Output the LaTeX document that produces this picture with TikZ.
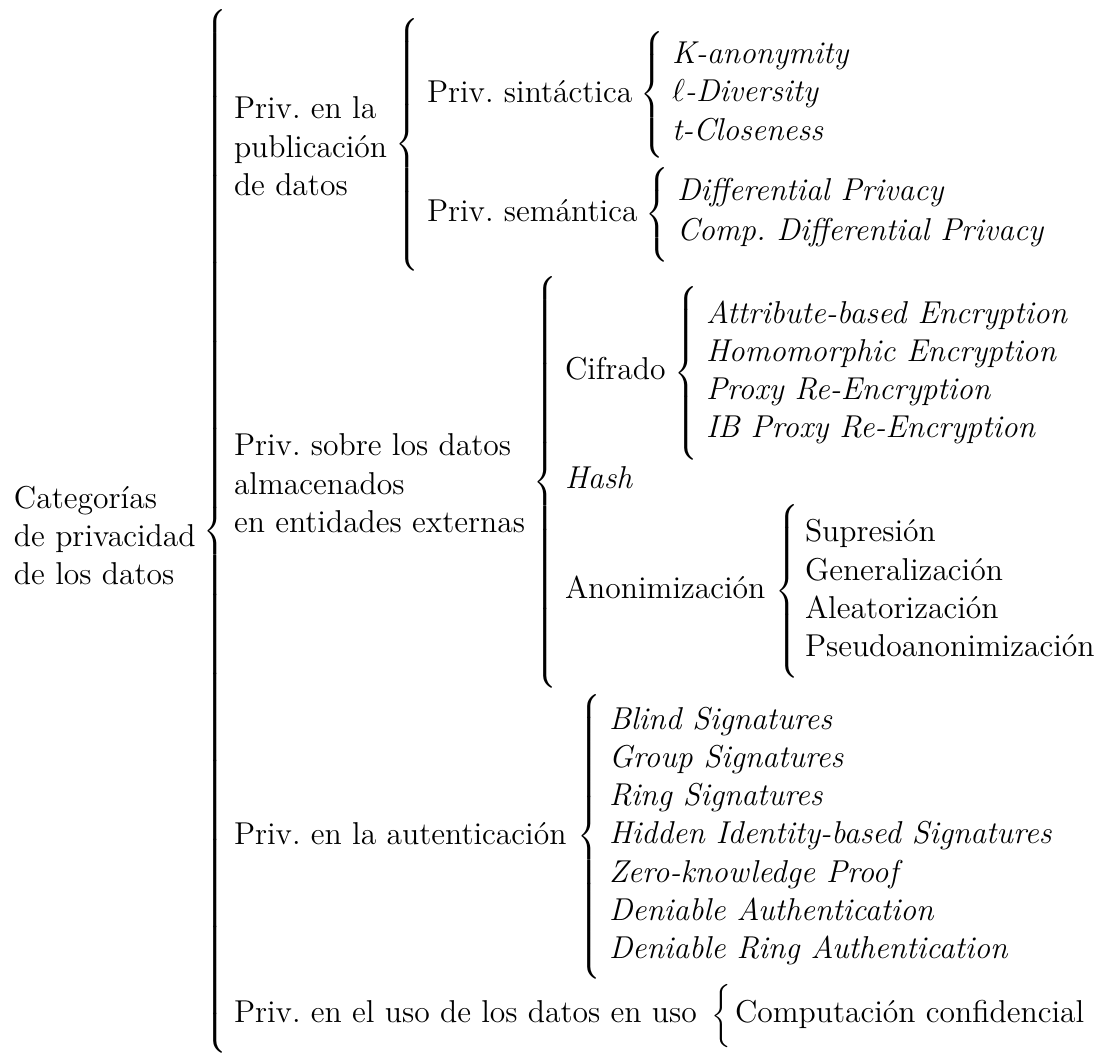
\documentclass[tikz,border=0pt]{standalone}
\usepackage{tikz}

% Extensible curly brace (cmex at 10pt) of a given total height,
% built from TeX's own delimiter pieces.
\newcommand{\curlybrace}[1]{%
  \fontsize{10}{12}\selectfont
  \delimiterfactor=1000 \delimitershortfall=0pt \nulldelimiterspace=0pt
  $\left\{\vcenter{\hrule height #1 width 0pt}\right.$}

% Several lines of upright text, baseline of the node = first line
\newcommand{\lines}[1]{\vtop{\baselineskip=14.5pt\lineskiplimit=-10pt #1}}

\tikzset{
  lbl/.style={font=\fontsize{12}{14.5}\selectfont\frenchspacing, inner sep=0pt, outer sep=0pt, anchor=base west},
  term/.style={lbl, font=\fontsize{12}{14.5}\selectfont\frenchspacing\itshape},
  curly/.style={inner sep=0pt, outer sep=0pt, anchor=center},
}

\begin{document}
\begin{tikzpicture}[x=0.3795pt, y=-0.3795pt]
\useasboundingbox (0,0) rectangle (1107,1057);

% root
\node[lbl] (root) at (14,508.3) {\lines{\hbox{Categorías}\hbox{de privacidad}\hbox{de los datos}}};
\node[curly] (broot) at (215,531.7) {\curlybrace{395.7pt}};

% first level
\node[lbl] (pub)   at (234,119)  {\lines{\hbox{Priv. en la}\hbox{publicación}\hbox{de datos}}};
\node[lbl] (sobre) at (234,456)  {\lines{\hbox{Priv. sobre los datos}\hbox{almacenados}\hbox{en entidades externas}}};
\node[lbl] (auth)  at (234,845)  {Priv. en la autenticación};
\node[lbl] (uso)   at (234,1023) {Priv. en el uso de los datos en uso};

% publication branch
\node[curly] (bpub) at (407,144.5) {\curlybrace{95.7pt}};
\node[lbl] (sin) at (427,103) {Priv. sintáctica};
\node[lbl] (sem) at (427,222) {Priv. semántica};

\node[curly] (bsin) at (652,94.5) {\curlybrace{47.7pt}};
\foreach \t [count=\i from 0] in {K-anonymity, {$\ell$-Diversity}, t-Closeness}
  \node[term] (sin\i) at (672,{63.8+38.2*\i}) {\t};

\node[curly] (bsem) at (657,214.5) {\curlybrace{35.7pt}};
\foreach \t [count=\i from 0] in {Differential Privacy, Comp. Differential Privacy}
  \node[term] (sem\i) at (677,{201+39.5*\i}) {\t};

% stored-data branch
\node[curly] (bsobre) at (545,482.5) {\curlybrace{155.7pt}};
\node[lbl]  (cif)  at (565,380) {Cifrado};
\node[term] (hash) at (565,489) {Hash};
\node[lbl]  (anon) at (565,599) {Anonimización};

\node[curly] (bcif) at (686,373) {\curlybrace{65.7pt}};
\foreach \t [count=\i from 0] in {Attribute-based Encryption, Homomorphic Encryption,
    Proxy Re-Encryption, IB Proxy Re-Encryption}
  \node[term] (cif\i) at (706,{323.2+38.2*\i}) {\t};

\node[curly] (banon) at (787,591) {\curlybrace{65.7pt}};
\foreach \t [count=\i from 0] in {Supresión, Generalización, Aleatorización, Pseudoanonimización}
  \node[lbl] (anon\i) at (805,{542+38.2*\i}) {\t};

% authentication branch
\node[curly] (bauth) at (589,836.5) {\curlybrace{107.7pt}};
\foreach \t [count=\i from 0] in {Blind Signatures, Group Signatures, Ring Signatures,
    Hidden Identity-based Signatures, Zero-knowledge Proof,
    Deniable Authentication, Deniable Ring Authentication}
  \node[term] (auth\i) at (609,{729.4+38.2*\i}) {\t};

% data-in-use branch
\node[curly] (buso) at (721,1016.5) {\curlybrace{23.7pt}};
\node[lbl] (uso0) at (735,1023) {Computación confidencial};
\end{tikzpicture}
\end{document}
